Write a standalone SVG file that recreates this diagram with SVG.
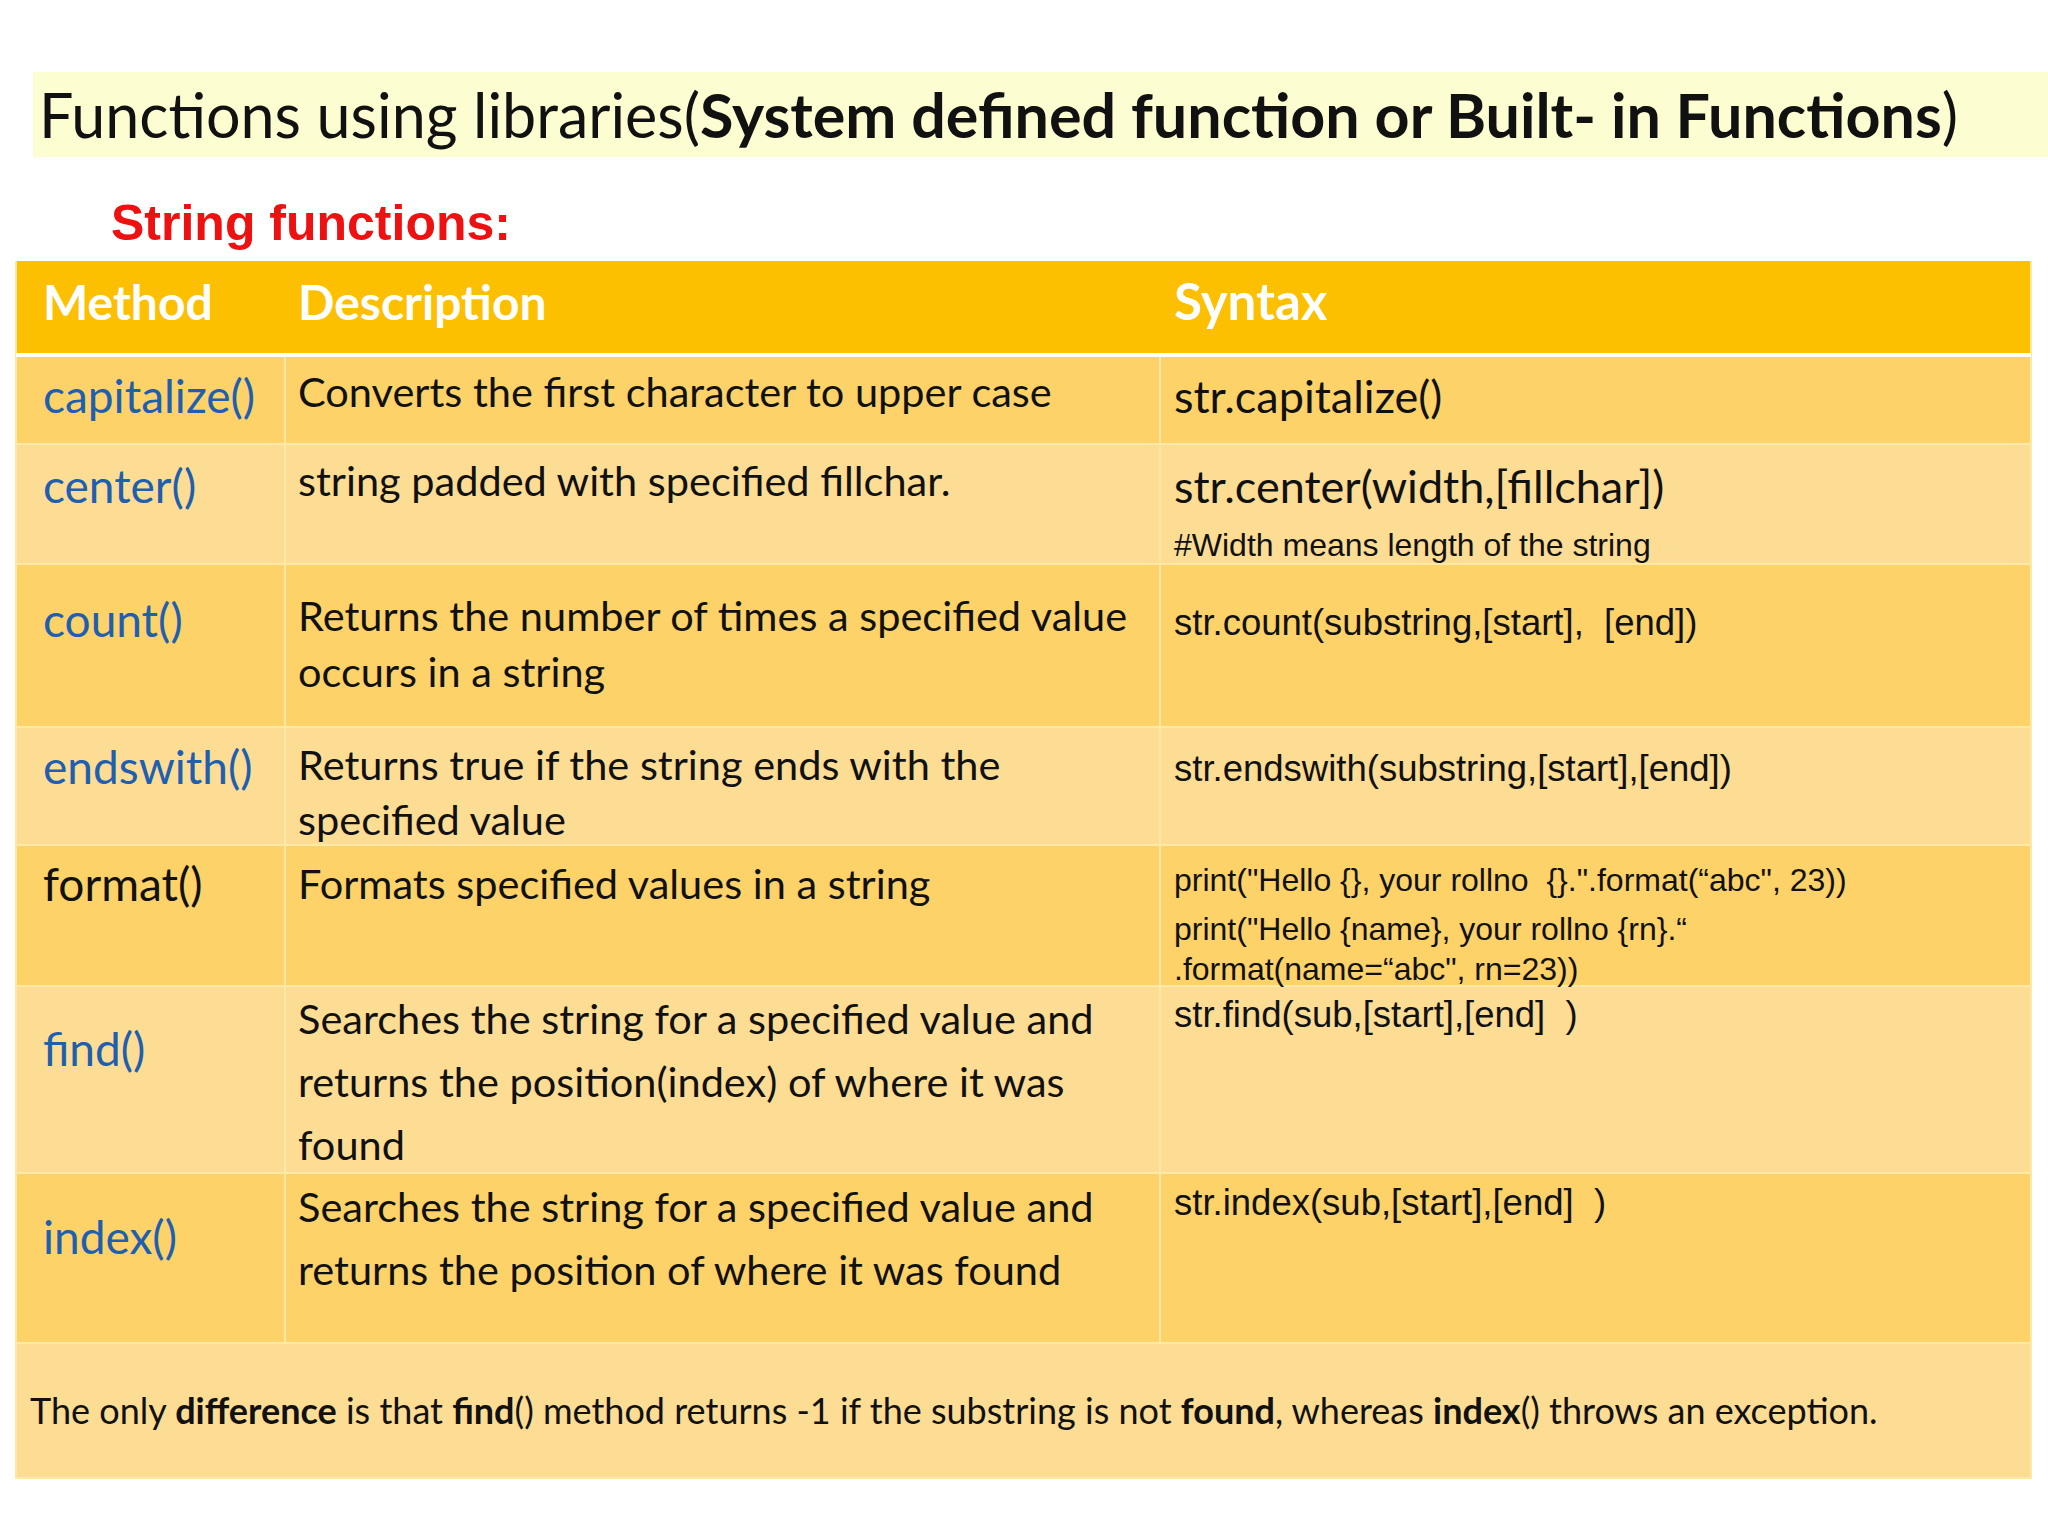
<svg xmlns="http://www.w3.org/2000/svg" width="2048" height="1536" viewBox="0 0 2048 1536">
<style>
text{font-family:Lato,"Open Sans",sans-serif}
.m{font-size:46px;fill:#1f5fb0}
.d{font-size:41.5px;fill:#111}
.s{font-size:45px;fill:#111}
.a{font-family:"Liberation Sans",Arial,sans-serif;font-size:36.5px;fill:#111}
.f{font-family:"Liberation Sans",Arial,sans-serif;font-size:32px;fill:#111}
.h{font-size:48px;fill:#fff;font-weight:bold}
.dk{fill:#fdd268}.lt{fill:#fddc94}
.g{stroke:#fce9a6;stroke-width:2;fill:none}
</style>
<rect width="2048" height="1536" fill="#fff"/>
<rect x="33" y="72" width="2015" height="85" fill="#fdfdd2"/>
<text x="39" y="138" style="font-size:61px;fill:#111">Functions using libraries(<tspan style="font-weight:bold">System defined function or Built- in Functions</tspan>)</text>
<text x="111" y="240" style="font-size:50px;fill:#ee1111;font-weight:bold;font-family:'Liberation Sans',Arial,sans-serif">String functions:</text>
<g id="table">
<rect x="16" y="261" width="2015" height="94" fill="#fcc000"/>
<rect class="dk" x="16" y="355" width="2015" height="89"/>
<rect class="lt" x="16" y="444" width="2015" height="120"/>
<rect class="dk" x="16" y="564" width="2015" height="163"/>
<rect class="lt" x="16" y="727" width="2015" height="118"/>
<rect class="dk" x="16" y="845" width="2015" height="141"/>
<rect class="lt" x="16" y="986" width="2015" height="187"/>
<rect class="dk" x="16" y="1173" width="2015" height="170"/>
<rect class="lt" x="16" y="1343" width="2015" height="135"/>
<path class="g" d="M16 444H2031M16 564H2031M16 727H2031M16 845H2031M16 986H2031M16 1173H2031M16 1343H2031M285 355V1343M1160 355V1343M16 261V1478H2031V261"/>
<path d="M16 355H2031" stroke="#fff" stroke-width="4"/>
</g>
<g id="header">
<text class="h" x="43" y="320">Method</text>
<text class="h" x="298" y="320">Description</text>
<text class="h" x="1174" y="320" style="font-size:51px">Syntax</text>
</g>
<g id="row-capitalize">
<text class="m" x="43" y="413">capitalize()</text>
<text class="d" x="298" y="407">Converts the first character to upper case</text>
<text class="s" x="1174" y="413">str.capitalize()</text>
</g>
<g id="row-center">
<text class="m" x="43" y="503">center()</text>
<text class="d" x="298" y="496">string padded with specified fillchar.</text>
<text class="s" x="1174" y="503">str.center(width,[fillchar])</text>
<text class="f" x="1174" y="556">#Width means length of the string</text>
</g>
<g id="row-count">
<text class="m" x="43" y="637">count()</text>
<text class="d" x="298" y="631">Returns the number of times a specified value</text>
<text class="d" x="298" y="687">occurs in a string</text>
<text class="a" x="1174" y="635">str.count(substring,[start],&#160; [end])</text>
</g>
<g id="row-endswith">
<text class="m" x="43" y="784">endswith()</text>
<text class="d" x="298" y="780">Returns true if the string ends with the</text>
<text class="d" x="298" y="835">specified value</text>
<text class="a" x="1174" y="781">str.endswith(substring,[start],[end])</text>
</g>
<g id="row-format">
<text class="m" x="43" y="901" style="fill:#111">format()</text>
<text class="d" x="298" y="899">Formats specified values in a string</text>
<text class="f" x="1174" y="891">print("Hello {}, your rollno&#160; {}.".format(“abc", 23))</text>
<text class="f" x="1174" y="940">print("Hello {name}, your rollno {rn}.“</text>
<text class="f" x="1174" y="980">.format(name=“abc", rn=23))</text>
</g>
<g id="row-find">
<text class="m" x="43" y="1066">find()</text>
<text class="d" x="298" y="1034">Searches the string for a specified value and</text>
<text class="d" x="298" y="1097">returns the position(index) of where it was</text>
<text class="d" x="298" y="1160">found</text>
<text class="a" x="1174" y="1027">str.find(sub,[start],[end]&#160; )</text>
</g>
<g id="row-index">
<text class="m" x="43" y="1254">index()</text>
<text class="d" x="298" y="1222">Searches the string for a specified value and</text>
<text class="d" x="298" y="1285">returns the position of where it was found</text>
<text class="a" x="1174" y="1215">str.index(sub,[start],[end]&#160; )</text>
</g>
<g id="footer">
<text x="30" y="1424" style="font-size:36px;fill:#111">The only <tspan font-weight="bold">difference</tspan> is that <tspan font-weight="bold">find</tspan>() method returns -1 if the substring is not <tspan font-weight="bold">found</tspan>, whereas <tspan font-weight="bold">index</tspan>() throws an exception.</text>
</g>
</svg>
